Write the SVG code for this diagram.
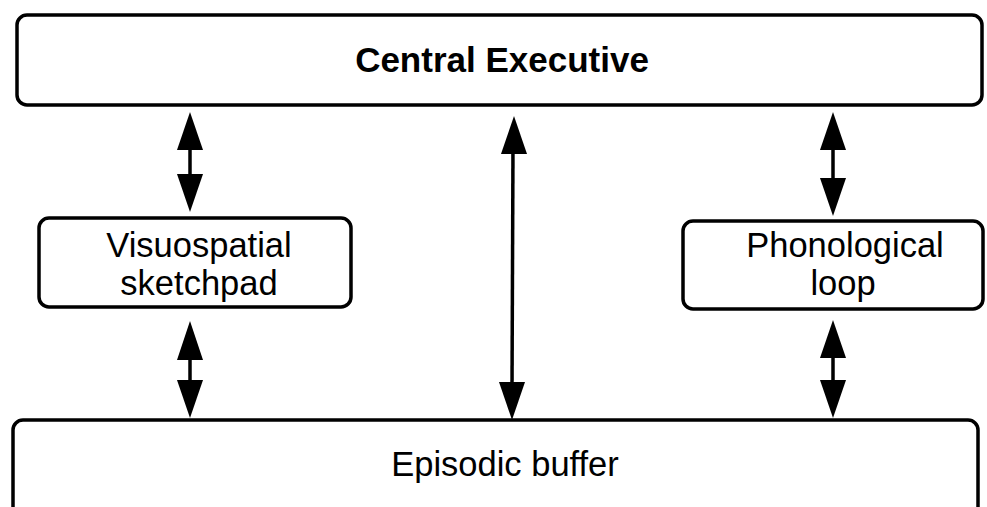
<svg xmlns="http://www.w3.org/2000/svg" width="987" height="507" viewBox="0 0 987 507">
  <defs>
    <style>
      .box { fill: #ffffff; stroke: #000000; stroke-width: 3.5; }
      .label { font-family: "Liberation Sans", Arial, sans-serif; font-size: 34.5px; fill: #000000; text-anchor: middle; }
      .bold { font-weight: bold; font-size: 35px; }
      .shaft { stroke: #000000; stroke-width: 3.5; fill: none; }
      .head { fill: #000000; stroke: none; }
    </style>
  </defs>
  <rect width="987" height="507" fill="#ffffff"/>

  <g id="central-executive">
    <rect class="box" x="17" y="15" width="965" height="90" rx="10"/>
    <text class="label bold" x="502" y="72">Central Executive</text>
  </g>

  <g id="visuospatial-sketchpad">
    <rect class="box" x="39" y="218" width="312" height="89" rx="10"/>
    <text class="label" x="199" y="257">Visuospatial</text>
    <text class="label" x="199" y="295">sketchpad</text>
  </g>

  <g id="phonological-loop">
    <rect class="box" x="683" y="221" width="300" height="88" rx="10"/>
    <text class="label" x="845" y="257">Phonological</text>
    <text class="label" x="843" y="295">loop</text>
  </g>

  <g id="episodic-buffer">
    <rect class="box" x="13" y="420" width="965" height="100" rx="10"/>
    <text class="label" x="505" y="476">Episodic buffer</text>
  </g>

  <g id="connectors">
    <!-- Central Executive <-> Visuospatial sketchpad -->
    <line class="shaft" x1="190" y1="140" x2="190" y2="180"/>
    <polygon class="head" points="190,112 177,150 203,150"/>
    <polygon class="head" points="190,212 177,174 203,174"/>
    <!-- Visuospatial sketchpad <-> Episodic buffer -->
    <line class="shaft" x1="190" y1="350" x2="190" y2="390"/>
    <polygon class="head" points="190,321 177,360 203,360"/>
    <polygon class="head" points="190,418 177,380 203,380"/>
    <!-- Central Executive <-> Episodic buffer -->
    <line class="shaft" x1="513" y1="145" x2="512" y2="390"/>
    <polygon class="head" points="514,116 501,154 527,154"/>
    <polygon class="head" points="512,420 499,382 525,382"/>
    <!-- Central Executive <-> Phonological loop -->
    <line class="shaft" x1="833" y1="140" x2="833" y2="180"/>
    <polygon class="head" points="833,112 820,150 846,150"/>
    <polygon class="head" points="833,216 820,178 846,178"/>
    <!-- Phonological loop <-> Episodic buffer -->
    <line class="shaft" x1="833" y1="350" x2="833" y2="390"/>
    <polygon class="head" points="833,320 820,358 846,358"/>
    <polygon class="head" points="833,418 820,380 846,380"/>
  </g>
</svg>
